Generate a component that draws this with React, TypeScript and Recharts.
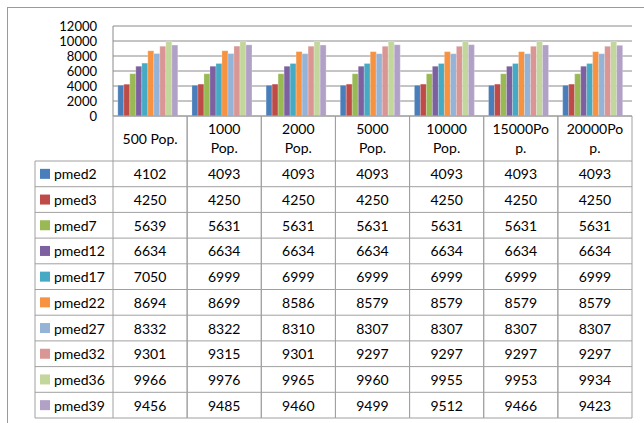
import { Bar, BarChart, CartesianGrid, XAxis, YAxis } from "recharts";

const categories = [
  "500 Pop.",
  "1000 Pop.",
  "2000 Pop.",
  "5000 Pop.",
  "10000 Pop.",
  "15000Pop.",
  "20000Pop.",
];

const seriesNames = ["pmed2", "pmed3", "pmed7", "pmed12", "pmed17", "pmed22", "pmed27", "pmed32", "pmed36", "pmed39"];

const pmed2 = [4102, 4093, 4093, 4093, 4093, 4093, 4093];
const pmed3 = [4250, 4250, 4250, 4250, 4250, 4250, 4250];
const pmed7 = [5639, 5631, 5631, 5631, 5631, 5631, 5631];
const pmed12 = [6634, 6634, 6634, 6634, 6634, 6634, 6634];
const pmed17 = [7050, 6999, 6999, 6999, 6999, 6999, 6999];
const pmed22 = [8694, 8699, 8586, 8579, 8579, 8579, 8579];
const pmed27 = [8332, 8322, 8310, 8307, 8307, 8307, 8307];
const pmed32 = [9301, 9315, 9301, 9297, 9297, 9297, 9297];
const pmed36 = [9966, 9976, 9965, 9960, 9955, 9953, 9934];
const pmed39 = [9456, 9485, 9460, 9499, 9512, 9466, 9423];

const yTicks = [0, 2000, 4000, 6000, 8000, 10000, 12000];

const seriesValues = [pmed2, pmed3, pmed7, pmed12, pmed17, pmed22, pmed27, pmed32, pmed36, pmed39];
const colors = [
  "#4a7ebb",
  "#be4b48",
  "#98b954",
  "#7d60a0",
  "#46aac5",
  "#f69240",
  "#94b3d7",
  "#d99694",
  "#c3d69b",
  "#b2a1c7",
];

const data = categories.map((name, i) => {
  const row: Record<string, string | number> = { name };
  seriesNames.forEach((s, j) => {
    row[s] = seriesValues[j][i];
  });
  return row;
});

const FONT = "Lato, 'Open Sans', sans-serif";
const TABLE_LINE = "#a0a0a0";
const GRID_LINE = "#8a8a8a";
const HEADER_H = 45;
const ROW_H = 25.7;

// Excel wraps the header text inside the narrow cells
const wrapLabel = (label: string) => {
  if (label.length <= 8) return [label];
  const sp = label.indexOf(" ");
  if (sp > 0) return [label.slice(0, sp), label.slice(sp + 1)];
  return [label.slice(0, 7), label.slice(7)];
};

const TableColumn = (props: any) => {
  const { x, y, payload, index, width, visibleTicksCount } = props;
  const half = width && visibleTicksCount ? width / visibleTicksCount / 2 : 37;
  const ci = categories.indexOf(payload.value);
  const lines = wrapLabel(String(payload.value));
  const bottom = y + HEADER_H + ROW_H * seriesNames.length;
  const legendLeft = x - half - 78;

  return (
    <g fontFamily={FONT} fontSize={14} fill="#000">
      {/* column borders */}
      <line x1={x - half} x2={x - half} y1={y} y2={bottom} stroke={TABLE_LINE} />
      <line x1={x + half} x2={x + half} y1={y} y2={bottom} stroke={TABLE_LINE} />
      {/* header */}
      {lines.length === 1 ? (
        <text x={x} y={y + 22} textAnchor="middle" dominantBaseline="central">
          {lines[0]}
        </text>
      ) : (
        lines.map((l, k) => (
          <text key={k} x={x} y={y + 12 + k * 19} textAnchor="middle" dominantBaseline="central">
            {l}
          </text>
        ))
      )}
      {/* rows */}
      {seriesNames.map((s, r) => {
        const top = y + HEADER_H + r * ROW_H;
        return (
          <g key={s}>
            <line x1={x - half} x2={x + half} y1={top} y2={top} stroke={TABLE_LINE} />
            <text x={x} y={top + ROW_H / 2} textAnchor="middle" dominantBaseline="central">
              {seriesValues[r][ci]}
            </text>
          </g>
        );
      })}
      <line x1={x - half} x2={x + half} y1={bottom} y2={bottom} stroke={TABLE_LINE} />
      {/* legend column, drawn once */}
      {index === 0 && (
        <g>
          <line x1={legendLeft} x2={legendLeft} y1={y + HEADER_H} y2={bottom} stroke={TABLE_LINE} />
          {seriesNames.map((s, r) => {
            const top = y + HEADER_H + r * ROW_H;
            return (
              <g key={s}>
                <line x1={legendLeft} x2={x - half} y1={top} y2={top} stroke={TABLE_LINE} />
                <rect x={legendLeft + 5} y={top + ROW_H / 2 - 5} width={10} height={10} fill={colors[r]} />
                <text x={legendLeft + 19} y={top + ROW_H / 2} dominantBaseline="central">
                  {s}
                </text>
              </g>
            );
          })}
          <line x1={legendLeft} x2={x - half} y1={bottom} y2={bottom} stroke={TABLE_LINE} />
        </g>
      )}
    </g>
  );
};

export default function App() {
  return (
    <div
      style={{
        position: "absolute",
        left: 0,
        top: 0,
        width: 644,
        height: 423,
        overflow: "hidden",
        background: "#fff",
      }}
    >
      <div
        style={{
          position: "absolute",
          left: 7,
          top: 7,
          width: 660,
          height: 440,
          borderLeft: "1px solid #9a9a9a",
          borderTop: "1px solid #9a9a9a",
        }}
      />
      <div style={{ position: "absolute", left: 0, top: 0 }}>
        <BarChart
          width={644}
          height={423}
          data={data}
          margin={{ top: 26, right: 12, bottom: 5, left: 0 }}
          barCategoryGap="6.5%"
          barGap={0}
        >
          <CartesianGrid vertical={false} stroke={GRID_LINE} />
          <YAxis
            width={113}
            domain={[0, 12000]}
            ticks={yTicks}
            interval={0}
            tickLine={false}
            tickSize={0}
            tickMargin={16}
            axisLine={{ stroke: GRID_LINE }}
            tick={{ fontFamily: FONT, fontSize: 13, fill: "#000" }}
          />
          <XAxis
            dataKey="name"
            height={302}
            interval={0}
            tickLine={false}
            tickSize={0}
            tickMargin={0}
            axisLine={{ stroke: TABLE_LINE }}
            tick={<TableColumn />}
          />
          {seriesNames.map((s, i) => (
            <Bar
              key={s}
              dataKey={s}
              fill={colors[i]}
              stroke="#ffffff"
              strokeOpacity={0.45}
              strokeWidth={0.5}
              isAnimationActive={false}
            />
          ))}
        </BarChart>
      </div>
    </div>
  );
}
